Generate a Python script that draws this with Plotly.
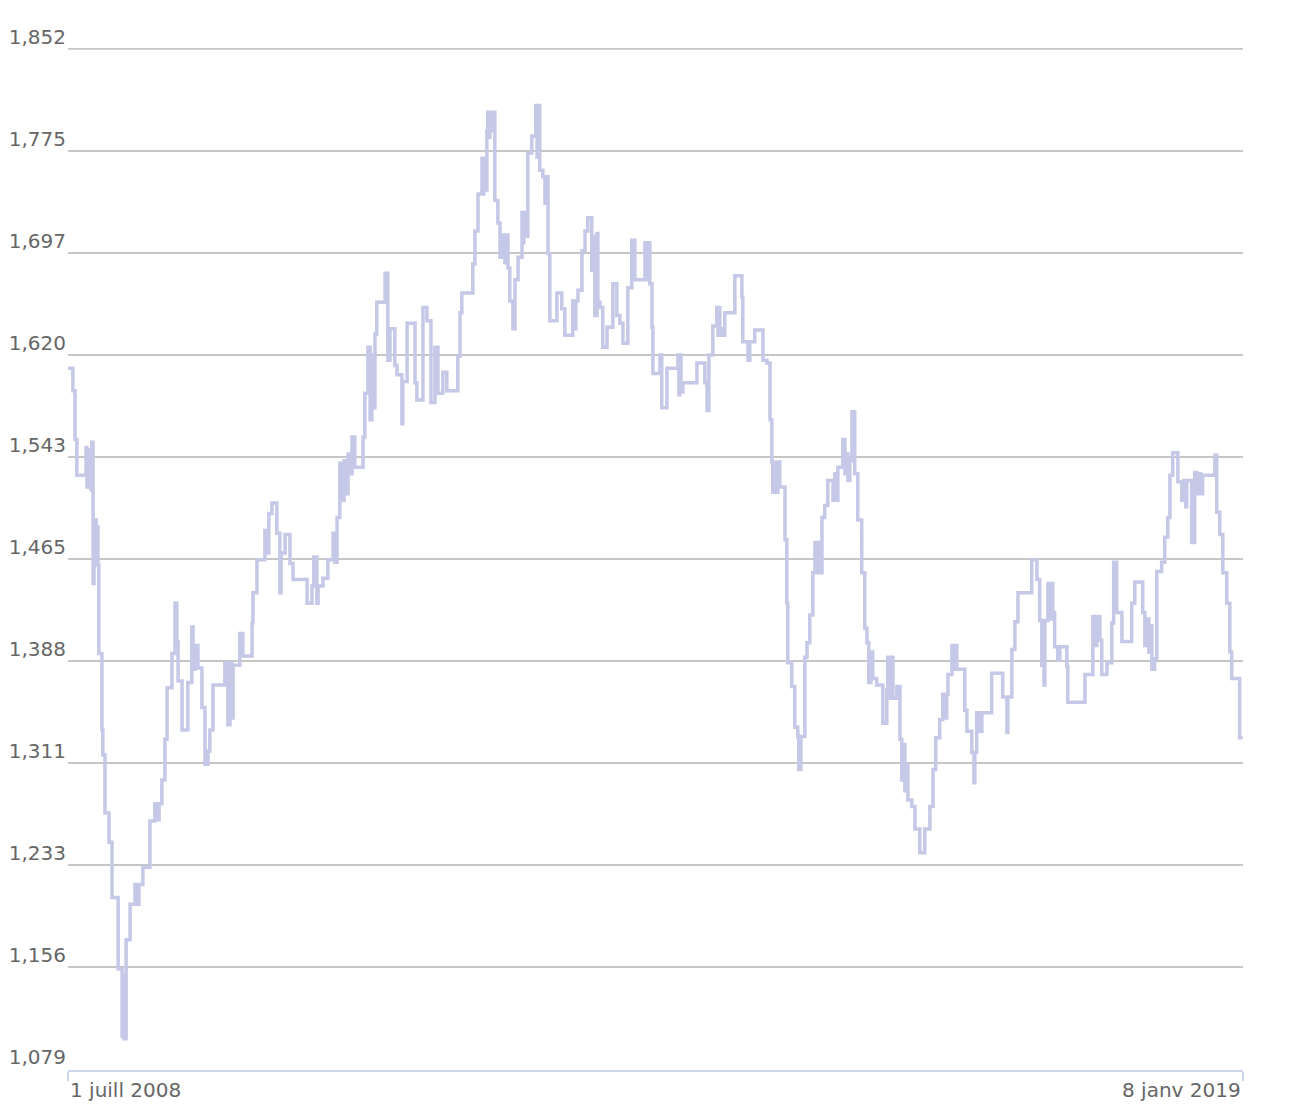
import pandas as pd
import plotly.graph_objects as pgo

#-----data-----
#days since 1 July 2008, and the value holding from that day on (step line)
start_date = "2008-07-01"
end_date = "2019-01-08"

day_offsets = [
    0, 16, 23, 29, 59, 62, 65, 69, 72, 75, 78, 82, 85, 92, 95, 98, 101, 111, 114, 121,
    134, 144, 164, 177, 180, 183, 190, 203, 219, 226, 232, 245, 268, 284, 291, 298, 307, 317, 324, 340,
    350, 356, 360, 373, 392, 405, 409, 415, 425, 438, 448, 458, 464, 474, 513, 523, 530, 536, 540, 562,
    572, 602, 605, 618, 644, 651, 657, 667, 683, 693, 697, 710, 726, 736, 782, 798, 804, 814, 818, 834,
    850, 867, 873, 880, 889, 896, 903, 909, 916, 922, 929, 938, 965, 971, 981, 988, 994, 997, 1004, 1010,
    1037, 1046, 1053, 1069, 1076, 1092, 1095, 1109, 1135, 1141, 1161, 1174, 1187, 1200, 1210, 1226, 1239, 1275, 1282, 1288,
    1324, 1331, 1341, 1354, 1357, 1360, 1364, 1370, 1373, 1377, 1380, 1386, 1390, 1396, 1406, 1413, 1422, 1429, 1436, 1439,
    1445, 1455, 1462, 1472, 1485, 1488, 1491, 1494, 1504, 1517, 1530, 1534, 1537, 1543, 1553, 1560, 1563, 1570, 1576, 1599,
    1615, 1625, 1651, 1658, 1661, 1668, 1681, 1691, 1700, 1713, 1717, 1723, 1730, 1733, 1740, 1749, 1763, 1782, 1795, 1805,
    1815, 1831, 1844, 1848, 1851, 1854, 1887, 1890, 1893, 1903, 1910, 1913, 1936, 1942, 1959, 1995, 1998, 2001, 2005, 2011,
    2057, 2083, 2090, 2096, 2109, 2122, 2126, 2129, 2132, 2139, 2148, 2181, 2204, 2207, 2224, 2230, 2246, 2273, 2286, 2296,
    2302, 2305, 2312, 2315, 2322, 2328, 2345, 2351, 2354, 2367, 2377, 2387, 2390, 2397, 2410, 2417, 2426, 2436, 2443, 2449,
    2456, 2459, 2466, 2475, 2485, 2502, 2508, 2511, 2518, 2534, 2541, 2547, 2551, 2557, 2564, 2573, 2583, 2596, 2606, 2613,
    2619, 2626, 2632, 2645, 2665, 2678, 2681, 2688, 2694, 2698, 2711, 2721, 2727, 2730, 2737, 2744, 2747, 2760, 2770, 2786,
    2802, 2819, 2829, 2838, 2851, 2861, 2868, 2874, 2878, 2891, 2894, 2900, 2907, 2933, 2940, 2956, 2963, 2966, 2972, 2982,
    2989, 3021, 3057, 3071, 3074, 3087, 3097, 3107, 3152, 3169, 3178, 3185, 3192, 3195, 3205, 3211, 3218, 3221, 3227, 3237,
    3244, 3267, 3270, 3326, 3352, 3358, 3365, 3375, 3381, 3398, 3414, 3420, 3430, 3447, 3479, 3489, 3515, 3522, 3528, 3535,
    3538, 3545, 3554, 3561, 3577, 3587, 3597, 3604, 3613, 3630, 3643, 3649, 3656, 3659, 3675, 3685, 3692, 3698, 3705, 3711,
    3751, 3757, 3767, 3777, 3790, 3800, 3806, 3832, 3842,
]

values = [
    1610, 1593, 1556, 1529, 1550, 1520, 1548, 1526, 1546, 1518, 1554, 1447, 1495, 1461, 1490, 1461, 1394, 1336, 1317, 1273,
    1251, 1209, 1155, 1104, 1150, 1102, 1177, 1204, 1219, 1204, 1219, 1232, 1267, 1280, 1268, 1280, 1298, 1329, 1368, 1394,
    1432, 1403, 1373, 1336, 1372, 1414, 1382, 1400, 1383, 1353, 1310, 1320, 1336, 1370, 1387, 1340, 1387, 1345, 1385, 1409,
    1392, 1417, 1440, 1465, 1487, 1470, 1500, 1508, 1485, 1440, 1470, 1484, 1462, 1450, 1432, 1445, 1467, 1432, 1445, 1451,
    1465, 1485, 1463, 1497, 1538, 1510, 1540, 1515, 1545, 1530, 1558, 1535, 1558, 1591, 1626, 1571, 1620, 1580, 1636, 1660,
    1682, 1616, 1640, 1612, 1605, 1568, 1600, 1644, 1599, 1586, 1656, 1646, 1584, 1626, 1591, 1607, 1593, 1619, 1652, 1667,
    1689, 1714, 1742, 1769, 1742, 1769, 1745, 1790, 1804, 1785, 1804, 1790, 1804, 1737, 1720, 1694, 1711, 1690, 1711, 1686,
    1661, 1640, 1677, 1694, 1728, 1705, 1728, 1710, 1773, 1786, 1809, 1770, 1809, 1760, 1755, 1735, 1755, 1697, 1646, 1667,
    1655, 1635, 1661, 1640, 1661, 1669, 1699, 1714, 1724, 1684, 1710, 1650, 1712, 1660, 1656, 1626, 1641, 1674, 1650, 1644,
    1629, 1671, 1707, 1677, 1707, 1677, 1705, 1677, 1705, 1674, 1641, 1606, 1620, 1580, 1610, 1620, 1590, 1620, 1592, 1599,
    1614, 1599, 1578, 1620, 1642, 1656, 1635, 1656, 1640, 1635, 1652, 1680, 1664, 1630, 1616, 1630, 1639, 1616, 1614, 1571,
    1539, 1516, 1539, 1516, 1539, 1520, 1480, 1432, 1387, 1369, 1338, 1331, 1306, 1331, 1391, 1402, 1423, 1455, 1478, 1455,
    1478, 1455, 1497, 1506, 1525, 1510, 1530, 1510, 1535, 1556, 1530, 1545, 1525, 1540, 1577, 1530, 1495, 1455, 1413, 1402,
    1372, 1395, 1375, 1370, 1341, 1366, 1391, 1360, 1391, 1360, 1369, 1329, 1298, 1325, 1290, 1310, 1283, 1278, 1261, 1243,
    1261, 1278, 1306, 1330, 1344, 1363, 1345, 1363, 1378, 1400, 1382, 1400, 1382, 1351, 1335, 1319, 1296, 1319, 1349, 1335,
    1349, 1379, 1361, 1334, 1361, 1397, 1418, 1440, 1465, 1450, 1419, 1385, 1370, 1419, 1447, 1420, 1447, 1425, 1399, 1389,
    1399, 1384, 1357, 1378, 1422, 1400, 1422, 1404, 1378, 1387, 1417, 1463, 1425, 1403, 1432, 1448, 1425, 1400, 1420, 1395,
    1415, 1382, 1390, 1456, 1463, 1482, 1497, 1529, 1546, 1524, 1510, 1525, 1505, 1525, 1478, 1531, 1515, 1530, 1515, 1529,
    1544, 1501, 1484, 1455, 1432, 1395, 1375, 1330, 1330,
]

#y axis ticks as shown on the chart
y_ticks = [1079, 1156.3, 1233.6, 1310.9, 1388.2, 1465.5, 1542.8, 1620.1, 1697.4, 1774.7, 1852]
y_tick_labels = ["1,079", "1,156", "1,233", "1,311", "1,388", "1,465", "1,543", "1,620", "1,697", "1,775", "1,852"]

#only the first and last date are labelled
x_labels = ["1 juill 2008", "8 janv 2019"]

dates = pd.Timestamp(start_date) + pd.to_timedelta(day_offsets, unit="D")

grid_color = "#c6c6c6"
label_font = dict(family="DejaVu Sans", size=20, color="#666666")

fig = pgo.Figure()
fig.add_trace(pgo.Scatter(x=dates, y=values, mode="lines", line_shape="hv",
                          line=dict(color="#c5c8e6", width=3.5), hoverinfo="x+y",
                          showlegend=False))

#page body has an 8px margin, so the figure is a bit smaller than the window
fig.update_layout(
    width=1292, height=1106,
    margin=dict(l=60, r=57, t=40, b=44),
    paper_bgcolor="white", plot_bgcolor="white",
    xaxis=dict(range=[start_date, end_date], showgrid=False, zeroline=False,
               showline=True, linecolor="#ccd6eb", linewidth=2,
               tickvals=[start_date, end_date], ticks="outside", ticklen=9,
               tickwidth=2, tickcolor="#ccd6eb", showticklabels=False),
    yaxis=dict(range=[y_ticks[0] - 0.6, y_ticks[-1] + 0.6], tickvals=y_ticks, ticktext=y_tick_labels,
               showgrid=True, gridcolor=grid_color, gridwidth=2, zeroline=False,
               showline=False, ticks="", tickfont=label_font, ticklabelshift=-12,
               ticklabelstandoff=1, automargin=False),
)

#plotly drops the gridline sitting on the top edge, draw it as a shape
fig.add_shape(type="line", xref="paper", x0=0, x1=1, yref="y", y0=y_ticks[-1], y1=y_ticks[-1],
              line=dict(color=grid_color, width=2), layer="below")

#x labels: first one left aligned on its tick, last one right aligned
fig.add_annotation(x=start_date, y=0, xref="x", yref="paper", text=x_labels[0],
                   showarrow=False, xanchor="left", yanchor="top", yshift=-6,
                   font=label_font)
fig.add_annotation(x=end_date, y=0, xref="x", yref="paper", text=x_labels[1],
                   showarrow=False, xanchor="right", yanchor="top", yshift=-6,
                   font=label_font)

fig.write_html("out.html")
